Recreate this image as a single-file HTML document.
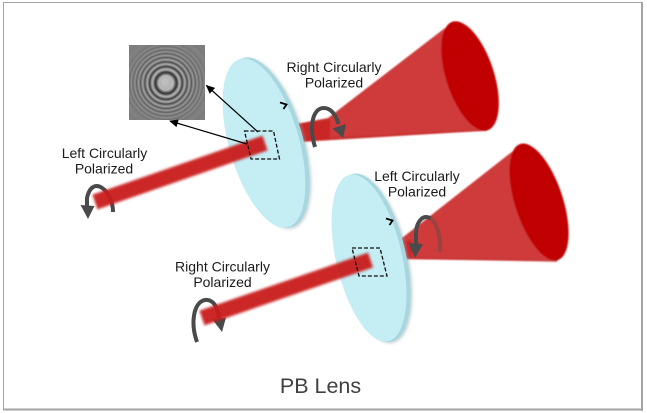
<!DOCTYPE html>
<html>
<head>
<meta charset="utf-8">
<style>
  html, body { margin: 0; padding: 0; background: #ffffff; }
  body { width: 647px; height: 413px; overflow: hidden; }
  svg { display: block; }
  .lbl { font-family: "Liberation Sans", Arial, sans-serif; font-size: 14px; fill: #1a1a1a; }
</style>
</head>
<body>
<svg width="647" height="413" viewBox="0 0 647 413" xmlns="http://www.w3.org/2000/svg">
  <defs>
    <filter id="bb" filterUnits="userSpaceOnUse" x="0" y="0" width="647" height="413">
      <feGaussianBlur stdDeviation="1.3"/>
    </filter>
    <filter id="bs" filterUnits="userSpaceOnUse" x="0" y="0" width="647" height="413">
      <feGaussianBlur stdDeviation="0.8"/>
    </filter>
    <filter id="sh" filterUnits="userSpaceOnUse" x="0" y="0" width="647" height="413">
      <feGaussianBlur stdDeviation="1.5"/>
    </filter>
    <clipPath id="zp">
      <rect x="129" y="45" width="76" height="75"/>
    </clipPath>
    <marker id="ah" markerWidth="9" markerHeight="8" refX="8" refY="4" orient="auto" markerUnits="userSpaceOnUse">
      <path d="M0,0 L9,4 L0,8 Z" fill="#000"/>
    </marker>
  </defs>

  <!-- background and border -->
  <rect x="0" y="0" width="647" height="413" fill="#ffffff"/>
  <line x1="3" y1="2.5" x2="643" y2="2.5" stroke="#a3a3a3" stroke-width="1"/>
  <line x1="3.5" y1="2" x2="3.5" y2="410" stroke="#a3a3a3" stroke-width="1"/>
  <line x1="642" y1="2" x2="642" y2="411" stroke="#a3a3a3" stroke-width="2"/>
  <line x1="3" y1="409.5" x2="643" y2="409.5" stroke="#a3a3a3" stroke-width="2"/>

  <!-- zone plate image -->
  <g clip-path="url(#zp)">
    <rect x="129" y="45" width="76" height="75" fill="#7e7e7e"/>
    <g fill="none">
      <circle cx="166" cy="83" r="62" stroke="#8a8a8a" stroke-width="0.6"/>
      <circle cx="166" cy="83" r="48" stroke="#747474" stroke-width="0.6"/>
      <circle cx="166" cy="83" r="44" stroke="#8a8a8a" stroke-width="0.6"/>
      <circle cx="166" cy="83" r="40.5" stroke="#727272" stroke-width="0.7"/>
      <circle cx="166" cy="83" r="38.5" stroke="#8c8c8c" stroke-width="0.7"/>
      <circle cx="166" cy="83" r="36.6" stroke="#6e6e6e" stroke-width="0.8"/>
      <circle cx="166" cy="83" r="34.8" stroke="#8e8e8e" stroke-width="0.8"/>
      <circle cx="166" cy="83" r="33.0" stroke="#6a6a6a" stroke-width="0.9"/>
      <circle cx="166" cy="83" r="31.2" stroke="#929292" stroke-width="0.9"/>
      <circle cx="166" cy="83" r="29.4" stroke="#646464" stroke-width="1"/>
      <circle cx="166" cy="83" r="27.5" stroke="#969696" stroke-width="1"/>
      <circle cx="166" cy="83" r="25.5" stroke="#5c5c5c" stroke-width="1.1"/>
      <circle cx="166" cy="83" r="23.4" stroke="#9c9c9c" stroke-width="1.2"/>
      <circle cx="166" cy="83" r="21.2" stroke="#545454" stroke-width="1.3"/>
      <circle cx="166" cy="83" r="18.9" stroke="#a2a2a2" stroke-width="1.4"/>
      <circle cx="166" cy="83" r="16.4" stroke="#4a4a4a" stroke-width="1.6"/>
      <circle cx="166" cy="83" r="13.7" stroke="#a8a8a8" stroke-width="1.8"/>
      <circle cx="166" cy="83" r="10.6" stroke="#404040" stroke-width="2.2"/>
    </g>
    <circle cx="166" cy="83" r="8" fill="#b5b5b5"/>
    <circle cx="165" cy="82" r="4" fill="#bdbdbd"/>
  </g>

  <!-- Cone 1 (behind lens 1) -->
  <g filter="url(#bs)">
    <polygon points="285,126 328,118 445,28 470,76 487.6,130.5 285,143" fill="#cf3b3b"/>
    <polygon points="285,126 330,119.5 330,139 285,143" fill="#c92525" opacity="0.85"/>
    <line x1="330" y1="138" x2="487" y2="130" stroke="#c52a2a" stroke-width="2" opacity="0.6"/>
    <ellipse cx="470" cy="76" rx="24" ry="57" transform="rotate(-18 470 76)" fill="#c00000"/>
  </g>

  <!-- Lens 1 -->
  <g transform="rotate(-16 264 143)">
    <ellipse cx="268.5" cy="145" rx="36" ry="88" fill="#8aa9ae" opacity="0.55" filter="url(#sh)"/>
    <ellipse cx="267" cy="143.5" rx="36" ry="88" fill="#a6d6df"/>
    <ellipse cx="264" cy="143" rx="35" ry="87.5" fill="#c4edf4"/>
  </g>

  <!-- Arc A (behind beam 1) -->
  <path d="M113,212 C113,190 92,174 87,198 L87,206" fill="none" stroke="#4a4a4a" stroke-width="4"/>
  <polygon points="80.5,205 94.5,206 88,219" fill="#4a4a4a"/>

  <!-- Beam 1 -->
  <line x1="95" y1="202" x2="265" y2="143" stroke="#c91d1d" stroke-width="15.5" opacity="0.95" filter="url(#bb)"/>

  <!-- Arc B (in front of cone 1) -->
  <path d="M315,147 C309,128 312,108 324,108 C331,108 336,115 338.5,124" fill="none" stroke="#4a4a4a" stroke-width="4"/>
  <polygon points="332.5,128.5 346,124 343,138" fill="#4a4a4a"/>

  <!-- Cone 2 (behind lens 2) -->
  <g filter="url(#bs)">
    <polygon points="388,244 402,238 513,151 539,202 558,261 388,259" fill="#cf3b3b"/>
    <polygon points="388,244 412,240 412,258 388,259" fill="#c92525" opacity="0.85"/>
    <line x1="412" y1="258" x2="557" y2="261" stroke="#c52a2a" stroke-width="2" opacity="0.6"/>
    <ellipse cx="539" cy="202" rx="24" ry="61" transform="rotate(-18 539 202)" fill="#c00000"/>
  </g>

  <!-- Lens 2 -->
  <g transform="rotate(-13 369 258)">
    <ellipse cx="373.5" cy="260" rx="34" ry="86" fill="#8aa9ae" opacity="0.55" filter="url(#sh)"/>
    <ellipse cx="372" cy="258.5" rx="34" ry="86" fill="#a6d6df"/>
    <ellipse cx="369" cy="258" rx="33" ry="85.5" fill="#c4edf4"/>
  </g>

  <!-- Arc D (behind beam 2) -->
  <path d="M197,342 C190,322 194,302 205,300 C213,299 218,307 219,318" fill="none" stroke="#4a4a4a" stroke-width="4"/>
  <polygon points="212,319 226,317.5 222,332" fill="#4a4a4a"/>

  <!-- Beam 2 -->
  <line x1="202" y1="318" x2="370.5" y2="260" stroke="#c91d1d" stroke-width="15.5" opacity="0.95" filter="url(#bb)"/>

  <!-- Arc C -->
  <path d="M440,252 C441,235 436,222 430,218" fill="none" stroke="#4a4a4a" stroke-width="4" opacity="0.4"/>
  <path d="M430.5,218.5 C424,214 417,220 416,232 L416,244" fill="none" stroke="#4a4a4a" stroke-width="4"/>
  <polygon points="408.5,243 423,244 415,258" fill="#4a4a4a"/>

  <!-- Dashed boxes -->
  <polygon points="244.5,131 273.5,131 279.5,159 251,159" fill="none" stroke="#111" stroke-width="1.3" stroke-dasharray="4,2"/>
  <polygon points="352,248 380,248 387,276 359,276" fill="none" stroke="#111" stroke-width="1.3" stroke-dasharray="4,2"/>

  <!-- small edge markers -->
  <path d="M280,102.5 L286.5,104.5 L283.5,109" fill="none" stroke="#000" stroke-width="1.8"/>
  <path d="M386,218.5 L392.5,220.5 L389.5,225" fill="none" stroke="#000" stroke-width="1.8"/>

  <!-- Pointer arrows to image -->
  <line x1="258" y1="132" x2="206.5" y2="85.5" stroke="#000" stroke-width="1.2" marker-end="url(#ah)"/>
  <line x1="247" y1="144" x2="170" y2="121" stroke="#000" stroke-width="1.2" marker-end="url(#ah)"/>

  <!-- Labels -->
  <text class="lbl" x="104.5" y="158" text-anchor="middle">Left Circularly</text>
  <text class="lbl" x="104" y="173.3" text-anchor="middle">Polarized</text>

  <text class="lbl" x="334" y="72" text-anchor="middle">Right Circularly</text>
  <text class="lbl" x="334" y="87.3" text-anchor="middle">Polarized</text>

  <text class="lbl" x="417" y="181" text-anchor="middle">Left Circularly</text>
  <text class="lbl" x="417" y="196.5" text-anchor="middle">Polarized</text>

  <text class="lbl" x="222.5" y="271.7" text-anchor="middle">Right Circularly</text>
  <text class="lbl" x="222.5" y="287" text-anchor="middle">Polarized</text>

  <text x="320.5" y="393" text-anchor="middle" font-family="Liberation Sans, Arial, sans-serif" font-size="21.5" fill="#404040">PB Lens</text>
</svg>
</body>
</html>
